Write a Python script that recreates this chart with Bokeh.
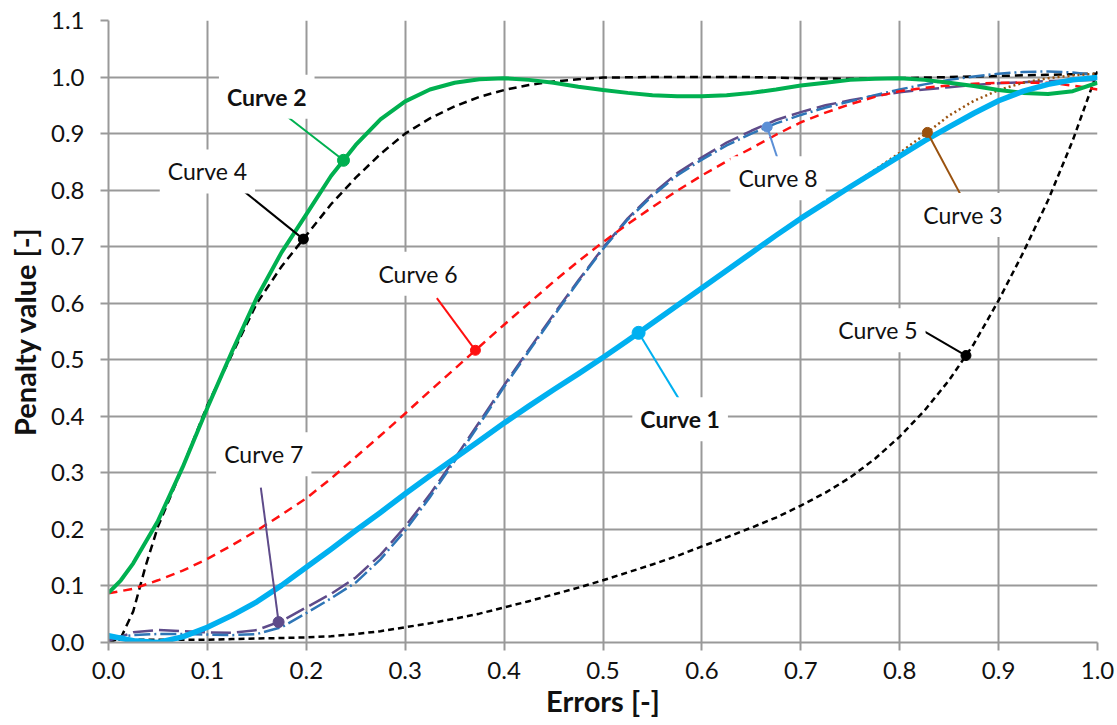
import numpy as np
from bokeh.plotting import figure
from bokeh.models import FixedTicker, Label
from bokeh.embed import file_html
from bokeh.resources import INLINE

# ---- data -----------------------------------------------------------------
errors = [0.0, 0.025, 0.05, 0.075, 0.1, 0.125, 0.15, 0.175, 0.2, 0.225,
          0.25, 0.275, 0.3, 0.325, 0.35, 0.375, 0.4, 0.425, 0.45, 0.475,
          0.5, 0.525, 0.55, 0.575, 0.6, 0.625, 0.65, 0.675, 0.7, 0.725,
          0.75, 0.775, 0.8, 0.825, 0.85, 0.875, 0.9, 0.925, 0.95, 0.975, 1.0]

curve1 = [0.012, 0.003, 0.0, 0.01, 0.027, 0.048, 0.072, 0.101, 0.133, 0.165,
          0.198, 0.23, 0.263, 0.295, 0.326, 0.357, 0.388, 0.418, 0.447, 0.475,
          0.504, 0.534, 0.565, 0.596, 0.627, 0.658, 0.689, 0.72, 0.75, 0.778,
          0.806, 0.833, 0.86, 0.887, 0.912, 0.936, 0.958, 0.975, 0.987, 0.995,
          0.999]

errors_c2 = [0.0, 0.0125] + errors[1:]
curve2 = [0.088, 0.11, 0.14, 0.215, 0.31, 0.415, 0.515, 0.61, 0.69, 0.757,
          0.825, 0.88, 0.925, 0.957, 0.978, 0.99, 0.996, 0.998, 0.995, 0.99,
          0.983, 0.977, 0.972, 0.968, 0.966, 0.966, 0.968, 0.972, 0.978, 0.985,
          0.99, 0.995, 0.997, 0.998, 0.995, 0.99, 0.984, 0.977, 0.972, 0.97,
          0.975, 0.99]

curve3 = [0.012, 0.003, 0.0, 0.01, 0.027, 0.048, 0.072, 0.101, 0.133, 0.165,
          0.198, 0.23, 0.263, 0.295, 0.326, 0.357, 0.388, 0.418, 0.447, 0.475,
          0.504, 0.534, 0.565, 0.596, 0.627, 0.658, 0.689, 0.72, 0.75, 0.778,
          0.807, 0.836, 0.866, 0.898, 0.932, 0.958, 0.977, 0.99, 0.998, 1.003,
          1.006]

errors_c4 = [0.0, 0.0125, 0.025, 0.0375, 0.05, 0.075, 0.1, 0.125, 0.15, 0.175,
             0.2, 0.225, 0.25, 0.275, 0.3, 0.325, 0.35, 0.375, 0.4, 0.425,
             0.45, 0.475, 0.5, 0.55, 0.6, 0.65, 0.7, 0.75, 0.8, 0.85, 0.9,
             0.95, 1.0]
curve4 = [0.0, 0.008, 0.055, 0.135, 0.205, 0.31, 0.42, 0.51, 0.6, 0.665,
          0.72, 0.775, 0.822, 0.864, 0.9, 0.927, 0.948, 0.965, 0.977, 0.986,
          0.992, 0.996, 0.999, 1.0, 1.0, 1.0, 0.998, 0.997, 0.998, 1.0, 1.002,
          1.004, 1.006]

curve5 = [0.005, 0.005, 0.005, 0.005, 0.005, 0.006, 0.007, 0.008, 0.009, 0.011,
          0.015, 0.02, 0.027, 0.034, 0.042, 0.051, 0.062, 0.073, 0.085, 0.097,
          0.11, 0.124, 0.138, 0.153, 0.17, 0.186, 0.203, 0.221, 0.242, 0.265,
          0.292, 0.325, 0.364, 0.41, 0.464, 0.528, 0.605, 0.69, 0.782, 0.888,
          1.01]

curve6 = [0.087, 0.095, 0.11, 0.127, 0.148, 0.172, 0.198, 0.226, 0.255, 0.29,
          0.328, 0.366, 0.405, 0.445, 0.484, 0.523, 0.562, 0.6, 0.638, 0.674,
          0.708, 0.74, 0.77, 0.799, 0.826, 0.851, 0.874, 0.898, 0.92, 0.937,
          0.952, 0.965, 0.975, 0.981, 0.985, 0.988, 0.99, 0.99, 0.99, 0.985,
          0.978]

curve7 = [0.003, 0.018, 0.022, 0.02, 0.018, 0.017, 0.022, 0.038, 0.062, 0.086,
          0.115, 0.155, 0.205, 0.262, 0.325, 0.39, 0.455, 0.518, 0.58, 0.64,
          0.698, 0.75, 0.793, 0.83, 0.858, 0.884, 0.905, 0.924, 0.938, 0.95,
          0.959, 0.967, 0.973, 0.978, 0.982, 0.986, 0.989, 0.991, 0.993, 0.994,
          0.995]

curve8 = [0.008, 0.013, 0.015, 0.015, 0.014, 0.013, 0.015, 0.027, 0.052, 0.078,
          0.106, 0.147, 0.198, 0.257, 0.321, 0.386, 0.452, 0.515, 0.577, 0.638,
          0.696, 0.748, 0.79, 0.826, 0.854, 0.879, 0.9, 0.918, 0.933, 0.946,
          0.957, 0.968, 0.978, 0.987, 0.995, 1.001, 1.006, 1.009, 1.01, 1.008,
          1.003]

x_ticks = [0.0, 0.1, 0.2, 0.3, 0.4, 0.5, 0.6, 0.7, 0.8, 0.9, 1.0]
x_tick_labels = ["0.0", "0.1", "0.2", "0.3", "0.4", "0.5", "0.6", "0.7",
                 "0.8", "0.9", "1.0"]
y_ticks = [0.0, 0.1, 0.2, 0.3, 0.4, 0.5, 0.6, 0.7, 0.8, 0.9, 1.0, 1.1]
y_tick_labels = ["0.0", "0.1", "0.2", "0.3", "0.4", "0.5", "0.6", "0.7",
                 "0.8", "0.9", "1.0", "1.1"]

FONT = "Lato"
GRID = "#999999"

p = figure(width=1117, height=725, x_range=(0.0, 1.0), y_range=(0.0, 1.1),
           output_backend="svg", toolbar_location=None,
           min_border_left=108, min_border_right=20, min_border_top=20,
           min_border_bottom=83)
p.outline_line_color = None
p.background_fill_color = "white"
p.border_fill_color = "white"

for ax, ticks, labels in ((p.xaxis[0], x_ticks, x_tick_labels),
                          (p.yaxis[0], y_ticks, y_tick_labels)):
    ax.ticker = FixedTicker(ticks=ticks)
    ax.major_label_overrides = {t: l for t, l in zip(ticks, labels)}
    ax.minor_tick_line_color = None
    ax.major_tick_in = 0
    ax.major_tick_out = 8
    ax.major_tick_line_color = GRID
    ax.major_tick_line_width = 2
    ax.axis_line_color = GRID
    ax.axis_line_width = 2
    ax.major_label_text_font = FONT
    ax.major_label_text_font_size = "24px"
    ax.major_label_text_color = "#111111"
    ax.axis_label_text_font = FONT
    ax.axis_label_text_font_style = "bold"
    ax.axis_label_text_font_size = "29px"
    ax.axis_label_text_color = "#111111"

p.xaxis.axis_label = "Errors [-]"
p.yaxis.axis_label = "Penalty value [-]"
p.xaxis.major_label_standoff = 11
p.xaxis.axis_label_standoff = 1
p.yaxis.major_label_standoff = 16
p.yaxis.axis_label_standoff = 6

p.xgrid.ticker = FixedTicker(ticks=x_ticks)
p.ygrid.ticker = FixedTicker(ticks=y_ticks)
for g in (p.xgrid, p.ygrid):
    g.grid_line_color = GRID
    g.grid_line_width = 2

# ---- curves ---------------------------------------------------------------
common = dict(line_join="round")
p.line(errors, curve5, line_color="black", line_width=2.5, line_dash="6 4", **common)
p.line(errors_c4, curve4, line_color="black", line_width=2.5, line_dash="8 5", **common)
p.line(errors, curve7, line_color="#5E4B8A", line_width=2.5, line_dash="20 6", **common)
p.line(errors, curve8, line_color="#2E75B6", line_width=2.5,
       line_dash="16 4 2 4", **common)
p.line(errors, curve6, line_color="#FF1010", line_width=2.5, line_dash="9 6", **common)
p.line(errors, curve3, line_color="#9A520F", line_width=2.5, line_dash="2 3", **common)
p.line(errors_c2, curve2, line_color="#00B050", line_width=4, **common)
p.line(errors, curve1, line_color="#00B0F0", line_width=5.5, **common)

# ---- callouts: label text, text position, leader start, marked x ----------
callouts = [
    ("Curve 2", 0.160, 0.965, 0.177, 0.935, 0.2376, errors_c2, curve2, "#00B050", True, 12),
    ("Curve 4", 0.100, 0.833, 0.1355, 0.800, 0.197, errors_c4, curve4, "black", False, 10),
    ("Curve 6", 0.313, 0.652, 0.332, 0.609, 0.371, errors, curve6, "#FF1010", False, 10),
    ("Curve 7", 0.157, 0.333, 0.154, 0.274, 0.172, errors, curve7, "#5E4B8A", False, 11),
    ("Curve 8", 0.677, 0.821, 0.678, 0.848, 0.666, errors, curve8, "#5B8FD6", False, 10),
    ("Curve 3", 0.864, 0.756, 0.8625, 0.789, 0.828, errors, curve3, "#9A520F", False, 10),
    ("Curve 5", 0.778, 0.552, 0.821, 0.554, 0.867, errors, curve5, "black", False, 10),
    ("Curve 1", 0.578, 0.395, 0.577, 0.430, 0.536, errors, curve1, "#00B0F0", True, 13),
]

for name, tx, ty, lx, ly, mx, xs, ys, color, bold, msize in callouts:
    my = float(np.interp(mx, xs, ys))
    p.segment(x0=[lx], y0=[ly], x1=[mx], y1=[my], line_color=color,
              line_width=2)
    p.scatter([mx], [my], size=msize, fill_color=color, line_color=color)
    p.add_layout(Label(x=tx, y=ty, text=name, text_font=FONT,
                       text_font_size="23px",
                       text_font_style="bold" if bold else "normal",
                       text_color="#111111", text_align="center",
                       text_baseline="middle",
                       background_fill_color="white",
                       padding=8))

open("out.html", "w").write(file_html(p, INLINE))
